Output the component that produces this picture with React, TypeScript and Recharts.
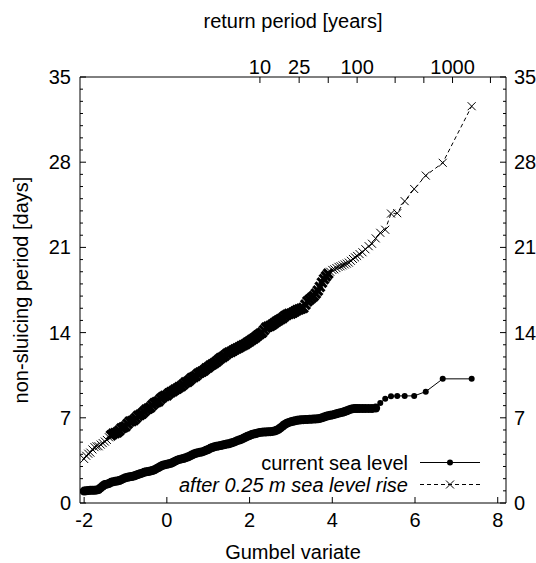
import React from "react";
import { LineChart, Line, XAxis, YAxis, Legend } from "recharts";

// Gumbel reduced variate of each ranked sample (shared by both series)
const GUMBEL = [
  -2.0, -1.95, -1.9, -1.85, -1.8, -1.75, -1.7, -1.65, -1.6, -1.55,
  -1.5, -1.45, -1.4, -1.35, -1.3, -1.25, -1.2, -1.15, -1.1, -1.05,
  -1.0, -0.95, -0.9, -0.85, -0.8, -0.75, -0.7, -0.65, -0.6, -0.55,
  -0.5, -0.45, -0.4, -0.35, -0.3, -0.25, -0.2, -0.15, -0.1, -0.05,
  0, 0.05, 0.1, 0.15, 0.2, 0.25, 0.3, 0.35, 0.4, 0.45,
  0.5, 0.55, 0.6, 0.65, 0.7, 0.75, 0.8, 0.85, 0.9, 0.95,
  1.0, 1.05, 1.1, 1.15, 1.2, 1.25, 1.3, 1.35, 1.4, 1.45,
  1.5, 1.55, 1.6, 1.65, 1.7, 1.75, 1.8, 1.85, 1.9, 1.95,
  2.0, 2.05, 2.1, 2.15, 2.2, 2.25, 2.3, 2.35, 2.4, 2.45,
  2.5, 2.55, 2.6, 2.65, 2.7, 2.75, 2.8, 2.85, 2.9, 2.95,
  3.0, 3.05, 3.1, 3.15, 3.2, 3.25, 3.3, 3.35, 3.4, 3.45,
  3.5, 3.55, 3.6, 3.65, 3.7, 3.75, 3.8, 3.85, 3.9, 3.95,
  4.0, 4.05, 4.1, 4.15, 4.2, 4.25, 4.3, 4.35, 4.4, 4.45,
  4.5, 4.55, 4.6,
  4.66, 4.73, 4.8, 4.88, 4.96, 5.05, 5.16, 5.28, 5.42, 5.57, 5.75, 5.98, 6.26, 6.67, 7.37,
];

// non-sluicing period [days], current sea level
const CURRENT = [
  0.98, 1.0, 1.02, 1.04, 1.04, 1.04, 1.06, 1.1, 1.25, 1.4,
  1.52, 1.55, 1.6, 1.7, 1.75, 1.78, 1.8, 1.85, 1.92, 2.0,
  2.07, 2.12, 2.15, 2.18, 2.22, 2.28, 2.34, 2.4, 2.45, 2.52,
  2.56, 2.59, 2.62, 2.66, 2.73, 2.82, 2.92, 3.02, 3.1, 3.14,
  3.18, 3.22, 3.27, 3.35, 3.44, 3.52, 3.58, 3.62, 3.66, 3.72,
  3.77, 3.85, 3.94, 4.02, 4.08, 4.12, 4.16, 4.2, 4.26, 4.33,
  4.4, 4.49, 4.56, 4.62, 4.66, 4.69, 4.72, 4.76, 4.8, 4.84,
  4.87, 4.92, 4.98, 5.04, 5.12, 5.18, 5.24, 5.31, 5.4, 5.48,
  5.55, 5.62, 5.67, 5.71, 5.76, 5.8, 5.82, 5.83, 5.84, 5.85,
  5.86, 5.88, 5.92, 5.97, 6.05, 6.18, 6.32, 6.45, 6.55, 6.62,
  6.67, 6.72, 6.76, 6.79, 6.81, 6.83, 6.85, 6.86, 6.87, 6.88,
  6.89, 6.9, 6.91, 6.92, 6.95, 7.0, 7.06, 7.12, 7.17, 7.21,
  7.24, 7.28, 7.33, 7.38, 7.42, 7.46, 7.52, 7.58, 7.65, 7.71,
  7.75, 7.76, 7.76,
  7.76, 7.76, 7.76, 7.76, 7.76, 7.8, 8.21, 8.57, 8.78, 8.8, 8.8, 8.8, 9.15, 10.2, 10.2,
];

// non-sluicing period [days], after 0.25 m sea level rise
const AFTER_RISE = [
  3.62, 3.88, 4.05, 4.14, 4.4, 4.59, 4.66, 4.66, 4.8, 4.92,
  5.05, 5.18, 5.4, 5.55, 5.69, 5.75, 5.8, 5.95, 6.14, 6.21,
  6.3, 6.5, 6.68, 6.73, 6.8, 6.98, 7.15, 7.25, 7.35, 7.5,
  7.68, 7.76, 7.85, 8.05, 8.2, 8.28, 8.36, 8.55, 8.7, 8.8,
  8.85, 9.0, 9.1, 9.2, 9.32, 9.4, 9.52, 9.6, 9.75, 9.9,
  9.95, 10.1, 10.25, 10.35, 10.45, 10.6, 10.72, 10.8, 10.9, 11.05,
  11.15, 11.28, 11.39, 11.5, 11.62, 11.75, 11.9, 11.98, 12.1, 12.25,
  12.35, 12.42, 12.52, 12.62, 12.7, 12.78, 12.88, 12.97, 13.05, 13.18,
  13.28, 13.4, 13.5, 13.62, 13.77, 13.9, 14.0, 14.2, 14.4, 14.49,
  14.55, 14.65, 14.78, 14.9, 15.01, 15.1, 15.2, 15.35, 15.45, 15.53,
  15.56, 15.65, 15.75, 15.85, 15.9, 15.97, 16.04, 16.3, 16.56, 16.7,
  16.85, 17.0, 17.2, 17.45, 17.75, 18.11, 18.4, 18.63, 18.85, 19.0,
  19.15, 19.2, 19.3, 19.4, 19.45, 19.52, 19.6, 19.67, 19.75, 19.9,
  20.05, 20.18, 20.3,
  20.45, 20.6, 20.85, 21.1, 21.3, 21.74, 22.2, 22.45, 23.78, 23.81, 24.8, 25.8, 26.9, 27.95, 32.6,
];

const X_TICKS = [-2, 0, 2, 4, 6, 8];
const RETURN_PERIODS = [10, 25, 50, 100, 250, 500, 1000, 2500];
const LABELLED_PERIODS = [10, 25, 100, 1000];
const Y_MAX = 35;
const Y_LABEL_STEP = 7;
const X_DOMAIN = [-2.1, 8.2];

const FONT = '"Liberation Sans", Arial, Helvetica, sans-serif';

const data = GUMBEL.map((g, i) => ({
  g,
  current: CURRENT[i],
  rise: AFTER_RISE[i],
}));

// return period T -> Gumbel reduced variate
const returnTicks = RETURN_PERIODS.map((T) => -Math.log(-Math.log(1 - 1 / T)));
const yTicks = Array.from({ length: Y_MAX + 1 }, (_, i) => i);

const txt = { fontSize: 20, fontFamily: FONT, fill: "#000" };

const BottomTick = (props: any) => {
  const { x, y, payload } = props;
  return (
    <g>
      <line x1={x} y1={y} x2={x} y2={y - 6} stroke="#000" />
      <text x={x} y={y + 24} textAnchor="middle" {...txt}>
        {payload.value}
      </text>
    </g>
  );
};

const TopTick = (props: any) => {
  const { x, y, index } = props;
  const T = RETURN_PERIODS[index];
  return (
    <g>
      <line x1={x} y1={y} x2={x} y2={y + 6} stroke="#000" />
      {LABELLED_PERIODS.includes(T) && (
        <text x={x} y={y - 3} textAnchor="middle" {...txt}>
          {T}
        </text>
      )}
    </g>
  );
};

const LeftTick = (props: any) => {
  const { x, y, payload } = props;
  const major = payload.value % Y_LABEL_STEP === 0;
  return (
    <g>
      <line x1={x} y1={y} x2={x + (major ? 6 : 3)} y2={y} stroke="#000" />
      {major && (
        <text x={x - 9} y={y + 7} textAnchor="end" {...txt}>
          {payload.value}
        </text>
      )}
    </g>
  );
};

const RightTick = (props: any) => {
  const { x, y, payload } = props;
  const major = payload.value % Y_LABEL_STEP === 0;
  return (
    <g>
      <line x1={x} y1={y} x2={x - (major ? 6 : 3)} y2={y} stroke="#000" />
      {major && (
        <text x={x + 8} y={y + 7} textAnchor="start" {...txt}>
          {payload.value}
        </text>
      )}
    </g>
  );
};

const BottomTitle = (props: any) => {
  const { x, y, width } = props.viewBox;
  return (
    <text x={x + width / 2} y={y + 56} textAnchor="middle" {...txt}>
      Gumbel variate
    </text>
  );
};

const TopTitle = (props: any) => {
  const { x, y, width } = props.viewBox;
  return (
    <text x={x + width / 2} y={y + 28} textAnchor="middle" {...txt}>
      return period [years]
    </text>
  );
};

const LeftTitle = (props: any) => {
  const { y, height } = props.viewBox;
  const cy = y + height / 2;
  return (
    <text x={28} y={cy} textAnchor="middle" transform={`rotate(-90 28 ${cy})`} {...txt}>
      non-sluicing period [days]
    </text>
  );
};

// filled circle; the many overlapping samples of the body read as a thick band
const Dot = (props: any) => {
  const { cx, cy, index, payload } = props;
  if (cx == null || cy == null) return <g key={`d${index}`} />;
  const dense = payload.g < 5.1;
  return <circle key={`d${index}`} cx={cx} cy={cy} r={dense ? 4.5 : 3} fill="#000" />;
};

const Cross = (props: any) => {
  const { cx, cy, index, payload } = props;
  if (cx == null || cy == null) return <g key={`c${index}`} />;
  const dense = payload.g > -1.4 && payload.g < 3.95;
  const s = dense ? 4.5 : 4;
  return (
    <path
      key={`c${index}`}
      d={`M${cx - s},${cy - s}L${cx + s},${cy + s}M${cx - s},${cy + s}L${cx + s},${cy - s}`}
      stroke="#000"
      strokeWidth={dense ? 3.2 : 1}
      fill="none"
    />
  );
};

const KeyBox = () => (
  <svg width={536} height={563} style={{ position: "absolute", left: 0, top: 0 }}>
    <text x={408} y={469.5} textAnchor="end" {...txt}>
      current sea level
    </text>
    <line x1={420} y1={462.5} x2={480} y2={462.5} stroke="#000" />
    <circle cx={450} cy={462.5} r={3} fill="#000" />
    <text x={408} y={491.5} textAnchor="end" fontStyle="italic" {...txt}>
      after 0.25 m sea level rise
    </text>
    <line x1={420} y1={484.5} x2={480} y2={484.5} stroke="#000" strokeDasharray="4 3" />
    <path d="M446,480.5L454,488.5M446,488.5L454,480.5" stroke="#000" />
  </svg>
);

export default function App() {
  return (
    <div style={{ position: "absolute", left: 0, top: 0, width: 536, height: 563, background: "#fff" }}>
      <LineChart width={536} height={563} data={data} margin={{ top: 0, right: 0, bottom: 0, left: 0 }}>
        <XAxis
          xAxisId="bottom"
          type="number"
          dataKey="g"
          domain={X_DOMAIN}
          allowDataOverflow
          ticks={X_TICKS}
          interval={0}
          height={60}
          tickSize={0}
          tickMargin={0}
          tickLine={false}
          axisLine={{ stroke: "#000" }}
          tick={<BottomTick />}
          label={<BottomTitle />}
        />
        <XAxis
          xAxisId="top"
          orientation="top"
          type="number"
          dataKey="g"
          domain={X_DOMAIN}
          allowDataOverflow
          ticks={returnTicks}
          interval={0}
          height={77}
          tickSize={0}
          tickMargin={0}
          tickLine={false}
          axisLine={{ stroke: "#000" }}
          tick={<TopTick />}
          label={<TopTitle />}
        />
        <YAxis
          yAxisId="left"
          type="number"
          domain={[0, Y_MAX]}
          allowDataOverflow
          ticks={yTicks}
          interval={0}
          width={80}
          tickSize={0}
          tickMargin={0}
          tickLine={false}
          axisLine={{ stroke: "#000" }}
          tick={<LeftTick />}
          label={<LeftTitle />}
        />
        <YAxis
          yAxisId="right"
          orientation="right"
          type="number"
          domain={[0, Y_MAX]}
          allowDataOverflow
          ticks={yTicks}
          interval={0}
          width={30}
          tickSize={0}
          tickMargin={0}
          tickLine={false}
          axisLine={{ stroke: "#000" }}
          tick={<RightTick />}
        />
        {/* invisible series that ties the x2 / y2 axes to the data */}
        <Line
          xAxisId="top"
          yAxisId="right"
          dataKey="current"
          stroke="none"
          dot={false}
          activeDot={false}
          legendType="none"
          isAnimationActive={false}
        />
        <Line
          xAxisId="bottom"
          yAxisId="left"
          type="linear"
          dataKey="current"
          name="current sea level"
          stroke="#000"
          strokeWidth={1}
          dot={Dot}
          activeDot={false}
          isAnimationActive={false}
        />
        <Line
          xAxisId="bottom"
          yAxisId="left"
          type="linear"
          dataKey="rise"
          name="after 0.25 m sea level rise"
          stroke="#000"
          strokeWidth={1}
          strokeDasharray="4 3"
          dot={Cross}
          activeDot={false}
          isAnimationActive={false}
        />
        <Legend
          layout="horizontal"
          verticalAlign="middle"
          align="center"
          wrapperStyle={{ position: "absolute", left: 0, top: 0, width: 536, height: 563, pointerEvents: "none" }}
          content={() => <KeyBox />}
        />
      </LineChart>
    </div>
  );
}
